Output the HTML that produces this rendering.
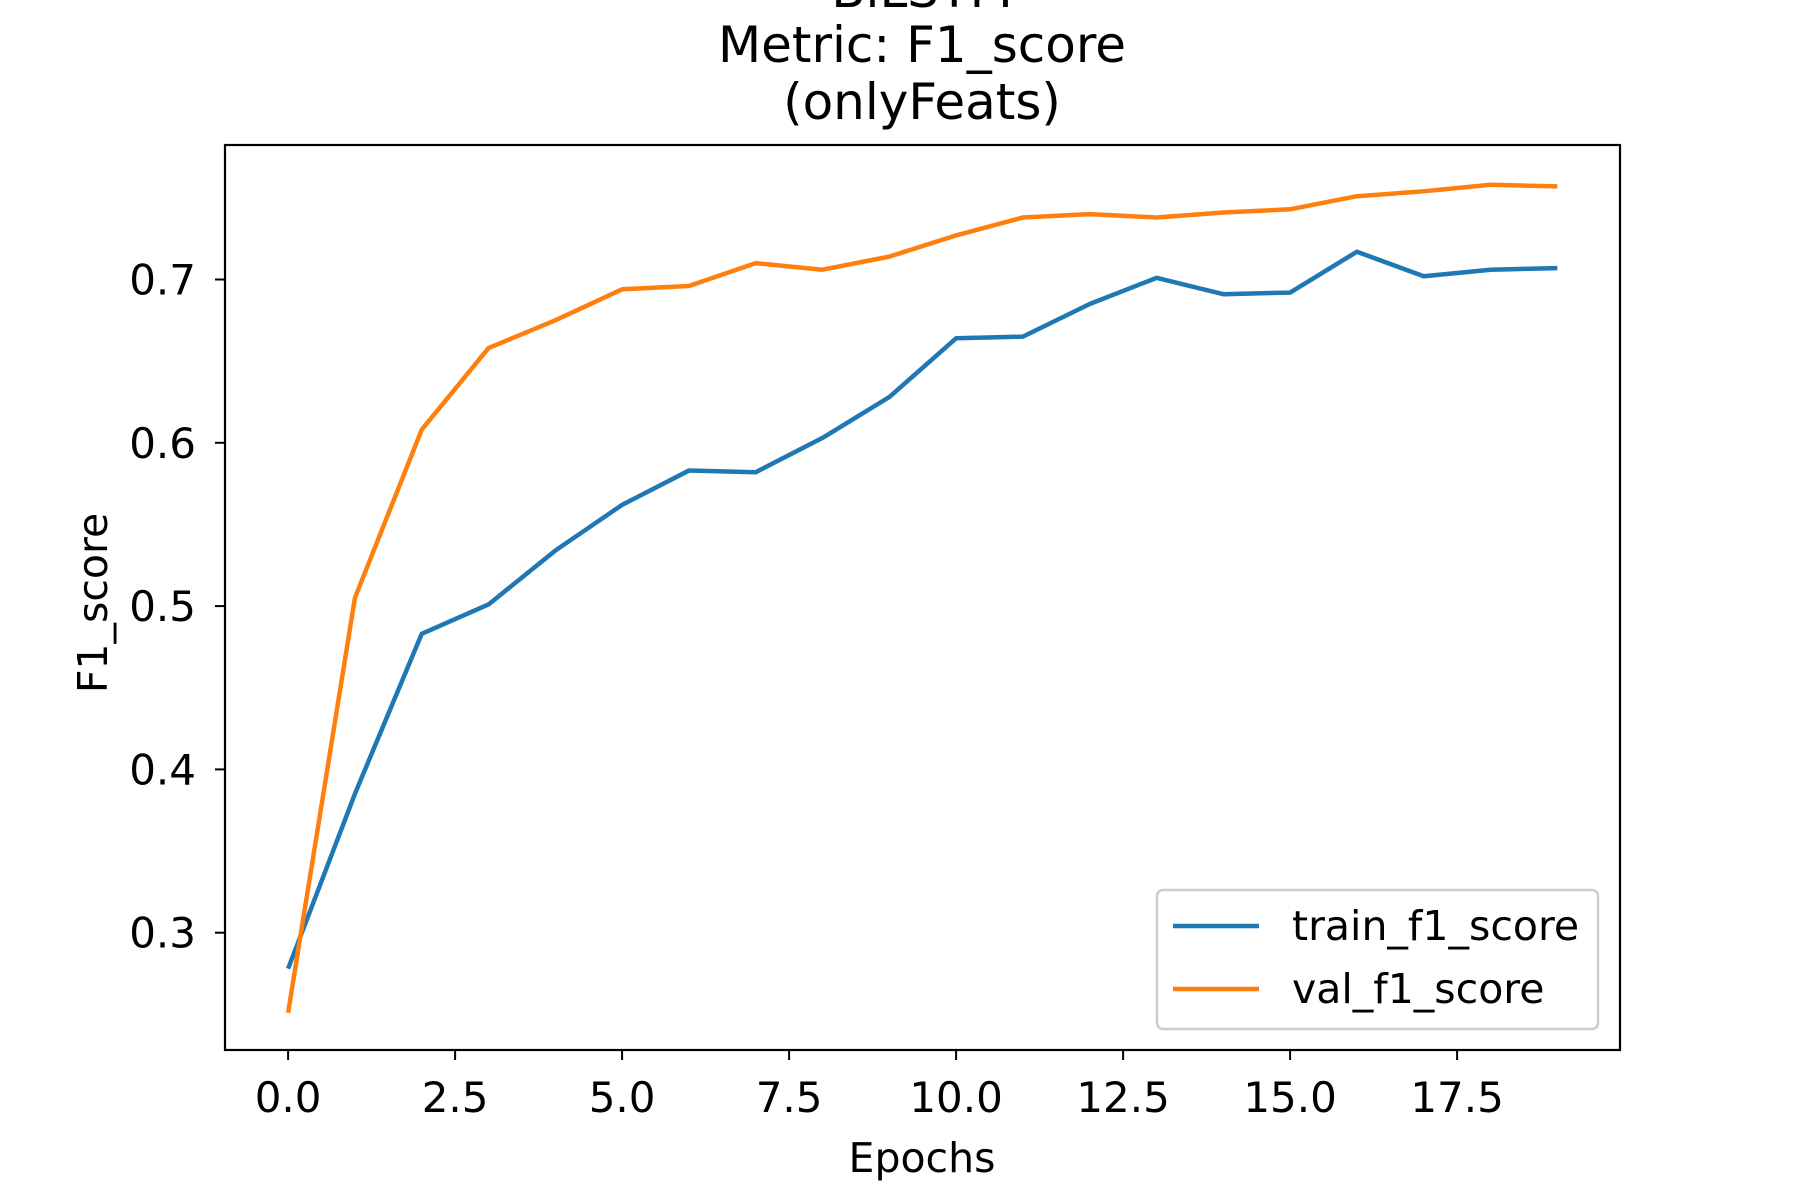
<!DOCTYPE html>
<html><head><meta charset="utf-8"><style>
html,body{margin:0;padding:0;background:#fff;}
svg{display:block;font-family:"DejaVu Sans","Liberation Sans",sans-serif;}
</style></head><body>
<svg id="chart" width="1800" height="1200" viewBox="0 0 1800 1200">
<rect width="1800" height="1200" fill="#fff"/>
<g font-size="50" text-anchor="middle" fill="#000">
<text x="922" y="7">BiLSTM</text>
<text x="922" y="62">Metric: F1_score</text>
<text x="922" y="119">(onlyFeats)</text>
</g>
<g id="plot"></g>
<rect x="225" y="145" width="1395" height="905" fill="none" stroke="#000" stroke-width="2.2"/>
<text x="922" y="1172" font-size="41" text-anchor="middle">Epochs</text>
<text transform="translate(107,603) rotate(-90)" font-size="41" text-anchor="middle">F1_score</text>
<g>
<rect x="1157" y="890" width="441" height="139" rx="6" fill="#fff" fill-opacity="0.8" stroke="#ccc" stroke-width="2.5"/>
<line x1="1173" y1="926" x2="1259" y2="926" stroke="#1f77b4" stroke-width="4.5"/>
<text x="1292" y="940" font-size="41">train_f1_score</text>
<line x1="1173" y1="989" x2="1259" y2="989" stroke="#ff7f0e" stroke-width="4.5"/>
<text x="1292" y="1003" font-size="41">val_f1_score</text>
</g>
</svg>
<script>
const epochs = [0,1,2,3,4,5,6,7,8,9,10,11,12,13,14,15,16,17,18,19];
const trainF1 = [0.278,0.385,0.483,0.501,0.534,0.562,0.583,0.582,0.603,0.628,0.664,0.665,0.685,0.701,0.691,0.692,0.717,0.702,0.706,0.707];
const valF1 = [0.251,0.505,0.608,0.658,0.675,0.694,0.696,0.710,0.706,0.714,0.727,0.738,0.740,0.738,0.741,0.743,0.751,0.754,0.758,0.757];
const xTicks = [0,2.5,5,7.5,10,12.5,15,17.5];
const xTickLabels = ["0.0","2.5","5.0","7.5","10.0","12.5","15.0","17.5"];
const yTicks = [0.3,0.4,0.5,0.6,0.7];
const yTickLabels = ["0.3","0.4","0.5","0.6","0.7"];

const NS = "http://www.w3.org/2000/svg";
const X0 = 288.1, XS = 66.8;
const Y0 = 279.5, YS = 1633;
function xs(v){ return X0 + v*XS; }
function ys(v){ return Y0 + (0.7 - v)*YS; }
const g = document.getElementById('plot');
function mk(tag, attrs){ const e=document.createElementNS(NS,tag); for(const k in attrs) e.setAttribute(k,attrs[k]); g.appendChild(e); return e; }

xTicks.forEach((t,i)=>{
  const l = mk('line',{x1:xs(t),x2:xs(t),y1:1050,y2:1060,stroke:'#000','stroke-width':2});
  
  
  const tx = mk('text',{x:xs(t),y:1112,'font-size':42,'text-anchor':'middle'});
  tx.textContent = xTickLabels[i];
  
  
});
yTicks.forEach((t,i)=>{
  const l = mk('line',{x1:215,x2:225,y1:ys(t),y2:ys(t),stroke:'#000','stroke-width':2});
  
  
  const tx = mk('text',{x:196,y:ys(t)+15,'font-size':42,'text-anchor':'end'});
  tx.textContent = yTickLabels[i];
  
  
});
function series(vals,color,name){
  const p = mk('polyline',{points:epochs.map((e,i)=>xs(e)+','+ys(vals[i])).join(' '),fill:'none',stroke:color,'stroke-width':4.5,'stroke-linejoin':'round'});
  
  
}
series(trainF1,'#1f77b4','train-f1-line');
series(valF1,'#ff7f0e','val-f1-line');
</script>
</body></html>
